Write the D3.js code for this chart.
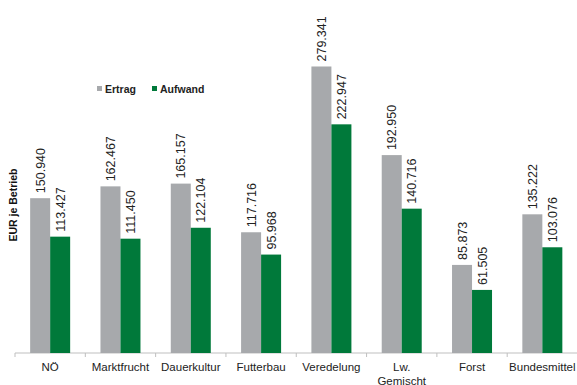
<!DOCTYPE html>
<html><head><meta charset="utf-8">
<script src="https://cdn.jsdelivr.net/npm/d3@7"></script>
<style>body{margin:0;background:#fff}svg{display:block;font-family:"Liberation Sans",Arial,sans-serif}</style>
</head><body><svg id="c" width="577" height="385"></svg>
<script>
const categories = ["NÖ","Marktfrucht","Dauerkultur","Futterbau","Veredelung","Lw.\nGemischt","Forst","Bundesmittel"];
const ertrag = [150.940,162.467,165.157,117.716,279.341,192.950,85.873,135.222];
const aufwand = [113.427,111.450,122.104,95.968,222.947,140.716,61.505,103.076];
const seriesNames = ["Ertrag","Aufwand"];
const colors = ["#A7A9AC","#00793A"];
const yLabel = "EUR je Betrieb";

const svg = d3.select("#c");
const x = d3.scaleBand().domain(categories).range([15, 577.5]).paddingInner(0).paddingOuter(0);
const y = d3.scaleLinear().domain([0, 300]).range([353, 45.3]);
const bw = 20;
const fmt = v => v.toFixed(3);

// axis
const ax = svg.append("g").attr("transform","translate(0,353)")
  .call(d3.axisBottom(x).tickSize(0).tickFormat(""));
ax.select(".domain").attr("stroke","#BFBFBF").attr("d","M15,0H577");
const tickPos = categories.map(c => x(c)).concat([x(categories[categories.length-1]) + x.bandwidth()]);
svg.append("g").selectAll("line").data(tickPos).join("line")
  .attr("x1",d=>d).attr("x2",d=>d).attr("y1",353).attr("y2",357).attr("stroke","#BFBFBF");

// category labels
const lbl = svg.append("g").selectAll("text").data(categories).join("text")
  .attr("x", d => x(d) + x.bandwidth()/2).attr("y", 370.5)
  .attr("text-anchor","middle").attr("font-size",11.5).attr("fill","#222");
lbl.each(function(d){
  const parts = d.split("\n");
  d3.select(this).selectAll("tspan").data(parts).join("tspan")
    .attr("x", x(d) + x.bandwidth()/2).attr("dy",(p,i)=> i===0?0:14).text(p=>p);
});

const series = [ertrag, aufwand];
series.forEach((vals, si) => {
  const g = svg.append("g");
  g.selectAll("rect").data(vals).join("rect")
    .attr("x",(v,i)=> x(categories[i]) + x.bandwidth()/2 - bw + si*bw)
    .attr("width", bw)
    .attr("y", v => y(v)).attr("height", v => y(0) - y(v))
    .attr("fill", colors[si]);
  g.selectAll("text").data(vals).join("text")
    .attr("transform",(v,i)=>{
      const cx = x(categories[i]) + x.bandwidth()/2 - bw + si*bw + bw/2 + 4.5;
      return `translate(${cx},${y(v)-5}) rotate(-90)`;
    })
    .attr("font-size",12.5).attr("fill","#222").text(fmt);
});

// legend
const leg = svg.append("g");
const legX = [97, 152];
seriesNames.forEach((n,i)=>{
  leg.append("rect").attr("x",legX[i]).attr("y",86).attr("width",5).attr("height",5).attr("fill",colors[i]);
  leg.append("text").attr("x",legX[i]+8).attr("y",92.5).attr("font-size",10.5).attr("font-weight","bold").attr("fill","#222").text(n);
});

// y label
svg.append("text").attr("transform","translate(17,205) rotate(-90)").attr("text-anchor","middle")
  .attr("font-size",10.5).attr("font-weight","bold").attr("fill","#111").text(yLabel);
</script></body></html>
